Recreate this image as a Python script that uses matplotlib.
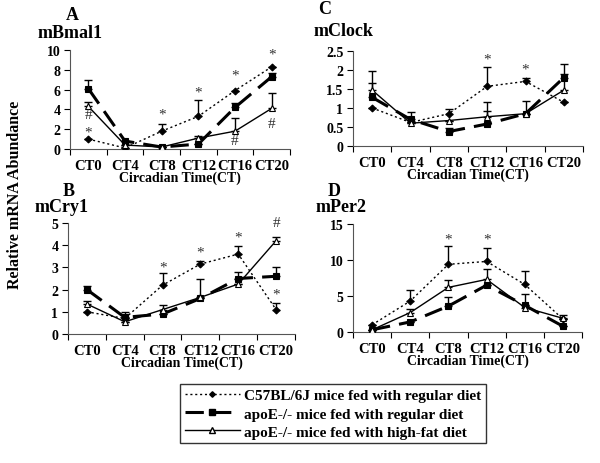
import matplotlib
matplotlib.use("Agg")
import matplotlib.pyplot as plt
import numpy as np
from matplotlib.lines import Line2D

plt.rcParams['font.family'] = ['Liberation Serif', 'DejaVu Serif']
plt.rcParams['font.weight'] = 'bold'

categories = ["CT0", "CT4", "CT8", "CT12", "CT16", "CT20"]
series_names = ["C57BL/6J mice fed with regular diet",
                "apoE-/- mice fed with regular diet",
                "apoE-/- mice fed with high-fat diet"]

# mBmal1
bmal_c57 = [1.0, 0.1, 1.8, 3.3, 5.9, 8.3]
bmal_c57_err = [0, 0, 0.7, 1.6, 0, 0]
bmal_reg = [6.1, 0.8, 0.2, 0.5, 4.2, 7.3]
bmal_reg_err = [0.9, 0, 0, 0, 0.4, 0.4]
bmal_hf = [4.3, 0.4, 0.2, 1.1, 1.8, 4.1]
bmal_hf_err = [0.4, 0, 0, 0.2, 1.3, 1.6]

# mClock
clock_c57 = [1.0, 0.62, 0.85, 1.57, 1.70, 1.15]
clock_c57_err = [0, 0, 0.12, 0.5, 0.1, 0]
clock_reg = [1.28, 0.70, 0.38, 0.58, 0.85, 1.80]
clock_reg_err = [0.37, 0.2, 0.1, 0.35, 0, 0.37]
clock_hf = [1.47, 0.60, 0.67, 0.77, 0.85, 1.47]
clock_hf_err = [0.5, 0, 0, 0.38, 0.33, 0.43]

# mCry1
cry_c57 = [1.0, 0.7, 2.2, 3.15, 3.6, 1.1]
cry_c57_err = [0, 0, 0.55, 0.15, 0.37, 0.3]
cry_reg = [2.0, 0.75, 0.9, 1.6, 2.5, 2.6]
cry_reg_err = [0.15, 0.25, 0, 0, 0.3, 0.4]
cry_hf = [1.35, 0.55, 1.1, 1.65, 2.25, 4.2]
cry_hf_err = [0.15, 0, 0.2, 0.85, 0, 0.15]

# mPer2
per_c57 = [1.0, 4.3, 9.4, 9.8, 6.6, 1.8]
per_c57_err = [0, 1.6, 2.6, 1.9, 1.9, 0]
per_reg = [0.3, 1.4, 3.6, 6.5, 3.7, 0.8]
per_reg_err = [0, 0, 1.2, 0, 0, 0]
per_hf = [0.3, 2.7, 6.2, 7.3, 3.4, 1.9]
per_hf_err = [0, 0.5, 1.0, 1.4, 1.9, 0.5]

W, H = 600.0, 464.0

panels = [
    dict(letter="A", gene="mBmal1", box=(70, 51, 290, 150),
         letter_xy=(72, 15), gene_xy=(70, 33),
         ylim=(0, 10), yticks=[0, 2, 4, 6, 8, 10], ylabels=["0", "2", "4", "6", "8", "10"],
         data=[(bmal_c57, bmal_c57_err), (bmal_reg, bmal_reg_err), (bmal_hf, bmal_hf_err)],
         marks=[(0, 1.75, "*"), (0, 3.45, "#"), (2, 3.5, "*"), (3, 5.8, "*"), (4, 7.5, "*"),
                (5, 9.6, "*"), (4, 0.9, "#"), (5, 2.6, "#")]),
    dict(letter="C", gene="mClock", box=(353, 52, 583, 147),
         letter_xy=(325, 10), gene_xy=(343, 32),
         ylim=(0, 2.5), yticks=[0, 0.5, 1, 1.5, 2, 2.5], ylabels=["0", "0.5", "1", "1.5", "2", "2.5"],
         data=[(clock_c57, clock_c57_err), (clock_reg, clock_reg_err), (clock_hf, clock_hf_err)],
         marks=[(3, 2.3, "*"), (4, 2.02, "*")]),
    dict(letter="B", gene="mCry1", box=(68, 224, 295, 335),
         letter_xy=(69, 191), gene_xy=(62, 208),
         ylim=(0, 5), yticks=[0, 1, 2, 3, 4, 5], ylabels=["0", "1", "2", "3", "4", "5"],
         data=[(cry_c57, cry_c57_err), (cry_reg, cry_reg_err), (cry_hf, cry_hf_err)],
         marks=[(2, 3.0, "*"), (3, 3.7, "*"), (4, 4.35, "*"), (5, 1.8, "*"), (5, 5.0, "#")]),
    dict(letter="D", gene="mPer2", box=(353, 225, 582, 333),
         letter_xy=(334, 191), gene_xy=(341, 208),
         ylim=(0, 15), yticks=[0, 5, 10, 15], ylabels=["0", "5", "10", "15"],
         data=[(per_c57, per_c57_err), (per_reg, per_reg_err), (per_hf, per_hf_err)],
         marks=[(2, 12.9, "*"), (3, 12.9, "*")]),
]

styles = [
    dict(ls=(0, (1.5, 2)), marker="D", ms=3.5, mfc="black", lw=1.0),
    dict(ls=(0, (6, 3)), marker="s", ms=5, mfc="black", lw=2.2),
    dict(ls="-", marker="^", ms=5, mfc="white", lw=1.0),
]

fig = plt.figure(figsize=(6, 4.64), dpi=100)
x = np.arange(len(categories))

for p in panels:
    x0, y0, x1, y1 = p["box"]
    ax = fig.add_axes([x0 / W, 1 - y1 / H, (x1 - x0) / W, (y1 - y0) / H])
    for (vals, err), st in zip(p["data"], styles):
        vals = np.array(vals, dtype=float)
        err = np.array(err, dtype=float)
        ax.errorbar(x, vals, yerr=[np.zeros_like(err), err], fmt="none",
                    ecolor="black", elinewidth=1.0, capsize=3, capthick=1.0, zorder=2)
        ax.plot(x, vals, color="black", linestyle=st["ls"], lw=st["lw"],
                marker=st["marker"], ms=st["ms"], mfc=st["mfc"], mec="black",
                mew=0.8, zorder=3)
    for (xi, yi, s) in p["marks"]:
        ax.text(xi, yi, s, ha="center", va="center", fontsize=11,
                fontweight="normal", color="#333333")
    ax.set_xlim(-0.5, 5.5)
    ax.set_ylim(*p["ylim"])
    ax.set_yticks(p["yticks"])
    ax.set_yticklabels(p["ylabels"], fontsize=10, fontweight="bold")
    ax.set_xticks(x)
    ax.set_xticklabels(categories, fontsize=10.5, fontweight="bold")
    ax.set_xticks(np.arange(-0.5, 6.0, 1.0), minor=True)
    ax.tick_params(axis="x", which="major", length=0, pad=7)
    ax.tick_params(axis="x", which="minor", length=4, direction="out", width=0.8)
    ax.tick_params(axis="y", length=4, direction="out", width=0.8, pad=3)
    ax.spines["top"].set_visible(False)
    ax.spines["right"].set_visible(False)
    ax.spines["left"].set_color("#555555")
    ax.spines["bottom"].set_color("#555555")
    ax.set_xlabel("Circadian Time(CT)", fontsize=10, fontweight="bold", labelpad=-1)
    lx, ly = p["letter_xy"]
    gx, gy = p["gene_xy"]
    fig.text(lx / W, 1 - ly / H, p["letter"], ha="center", va="center",
             fontsize=13, fontweight="bold")
    fig.text(gx / W, 1 - gy / H, p["gene"], ha="center", va="center",
             fontsize=13, fontweight="bold")

fig.text(15 / W, 1 - 195 / H, "Relative mRNA Abundance", rotation=90, ha="center",
         va="center", fontsize=11.5, fontweight="bold")

handles = [Line2D([0], [0], color="black", linestyle=st["ls"], lw=st["lw"],
                  marker=st["marker"], ms=st["ms"] * 0.8, mfc=st["mfc"], mec="black")
           for st in styles]
leg = fig.legend(handles, series_names, loc="upper left",
                 bbox_to_anchor=(180 / W, 1 - 385 / H), frameon=True, fancybox=False,
                 edgecolor="black", handlelength=3.6,
                 labelspacing=0.3, borderpad=0.3, handletextpad=0.3,
                 borderaxespad=0.0,
                 prop=dict(weight="bold", size=11))
leg.get_frame().set_linewidth(1.0)

fig.savefig("out.png", dpi=100, facecolor="white")
